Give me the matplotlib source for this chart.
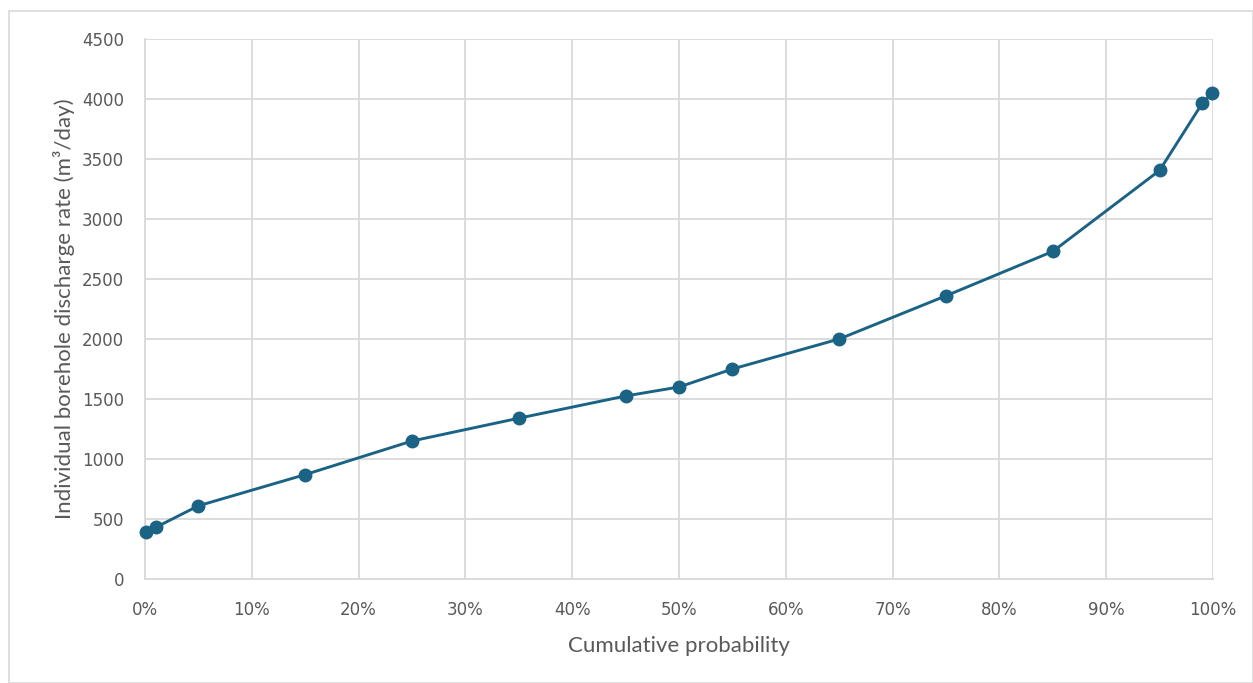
import matplotlib.pyplot as plt
from matplotlib.ticker import FuncFormatter, MultipleLocator
from matplotlib.patches import Rectangle

# cumulative probability (%) vs discharge rate (m3/day)
prob = [0.1, 1, 5, 15, 25, 35, 45, 50, 55, 65, 75, 85, 95, 99, 99.9]
rate = [395, 430, 610, 870, 1150, 1340, 1525, 1600, 1750, 2000, 2360, 2730, 3405, 3965, 4050]

line_color = '#1b6384'
grid_color = '#d9d9d9'
text_color = '#595959'

fig = plt.figure(figsize=(12.53, 6.83), dpi=100)
ax = fig.add_axes([145/1253, 1-579/683, (1213-145)/1253, 540/683])

# outer chart border
fig.patches.append(Rectangle((9/1253, 0), 1-9/1253, 1-11/683, transform=fig.transFigure,
                             fill=False, edgecolor=grid_color, linewidth=1.2))

ax.plot(prob, rate, color=line_color, linewidth=2.1, marker='o', markersize=9,
        markerfacecolor=line_color, markeredgecolor=line_color, zorder=3, clip_on=False)

ax.set_xlim(0, 100)
ax.set_ylim(0, 4500)
ax.xaxis.set_major_locator(MultipleLocator(10))
ax.yaxis.set_major_locator(MultipleLocator(500))
ax.xaxis.set_major_formatter(FuncFormatter(lambda v, p: "{:.0f}%".format(v)))

ax.grid(True, color=grid_color, linewidth=1.3)
ax.set_axisbelow(True)
for s in ['top', 'right']:
    ax.spines[s].set_visible(False)
for s in ['left', 'bottom']:
    ax.spines[s].set_color(grid_color)
    ax.spines[s].set_linewidth(1.3)

ax.tick_params(length=0, labelsize=12, labelcolor=text_color)
ax.tick_params(axis='y', pad=15)
ax.tick_params(axis='x', pad=16)
for lab in ax.get_xticklabels() + ax.get_yticklabels():
    lab.set_fontfamily('DejaVu Sans')

ax.set_xlabel('Cumulative probability', fontsize=16, color=text_color, family='Lato', labelpad=12)
ax.set_ylabel('Individual borehole discharge rate (m\u00b3/day)', fontsize=16, color=text_color,
              family=['Lato', 'DejaVu Sans'], labelpad=5)

fig.savefig('out.png', dpi=100)
